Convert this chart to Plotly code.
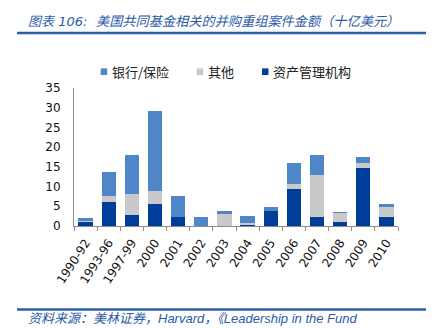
import plotly.graph_objects as go

categories = ["1990-92", "1993-96", "1997-99", "2000", "2001", "2002", "2003",
              "2004", "2005", "2006", "2007", "2008", "2009", "2010"]
asset_mgmt = [1.1, 6.2, 2.8, 5.7, 2.3, 0.0, 0.1, 0.3, 3.9, 9.5, 2.3, 1.1, 14.7, 2.3]
other      = [0.2, 1.4, 5.3, 3.3, 0.0, 0.0, 3.0, 0.5, 0.0, 1.2, 10.7, 2.2, 1.2, 2.6]
bank_ins   = [0.7, 6.1, 10.0, 20.1, 5.2, 2.4, 0.6, 1.8, 0.9, 5.4, 5.1, 0.1, 1.7, 0.6]
y_ticks = [0, 5, 10, 15, 20, 25, 30, 35]

names = ["资产管理机构", "其他", "银行/保险"]
colors = ["#003F99", "#C9C9C9", "#4F86C8"]

W, H = 435, 328
L, R, T, B = 74, 37, 88, 102
pw, ph = W - L - R, H - T - B


def px(x):
    return (x - L) / pw


def py(y):
    return (H - B - y) / ph


fig = go.Figure()
for name, vals, c in zip(names, [asset_mgmt, other, bank_ins], colors):
    fig.add_trace(go.Bar(x=categories, y=vals, name=name, marker_color=c,
                         marker_line_width=0, showlegend=False))

CJK = "DejaVu Sans, Noto Sans CJK SC"
FOOT = "Liberation Sans, Noto Sans CJK SC"
blue = "#2B5BA8"

shapes = [
    dict(type="line", xref="paper", yref="paper", x0=px(17), x1=px(426),
         y0=py(33), y1=py(33), line=dict(color="#2E5DA8", width=2.5)),
    dict(type="line", xref="paper", yref="paper", x0=px(17), x1=px(426),
         y0=py(309.5), y1=py(309.5), line=dict(color="#2E5DA8", width=2.5)),
]
annotations = [
    dict(text="<i>图表 106:</i>",
         xref="paper", yref="paper", x=px(26), y=py(21), xanchor="left", yanchor="middle",
         showarrow=False, font=dict(family=CJK, size=13, color=blue)),
    dict(text="<i>美国共同基金相关的并购重组案件金额（十亿美元）</i>",
         xref="paper", yref="paper", x=px(94), y=py(21), xanchor="left", yanchor="middle",
         showarrow=False, font=dict(family=CJK, size=13.2, color=blue)),
    dict(text="<i>资料来源：美林证券，Harvard，《Leadership in the Fund</i>",
         xref="paper", yref="paper", x=px(26), y=py(318), xanchor="left", yanchor="middle",
         showarrow=False, font=dict(family=FOOT, size=13, color=blue)),
]

# manual legend (order: 银行/保险, 其他, 资产管理机构)
legend_items = [("银行/保险", "#4F86C8", 100.7), ("其他", "#C9C9C9", 196.7),
                ("资产管理机构", "#003F99", 262)]
ly = 71.7
for text, c, x0 in legend_items:
    shapes.append(dict(type="rect", xref="paper", yref="paper",
                       x0=px(x0), x1=px(x0 + 6.5), y0=py(ly + 3.3), y1=py(ly - 3.3),
                       fillcolor=c, line=dict(width=0)))
    annotations.append(dict(text=text, xref="paper", yref="paper", x=px(x0 + 9),
                            y=py(ly), xanchor="left", yanchor="middle", showarrow=False,
                            font=dict(family="Noto Sans CJK SC", size=13, color="#222222")))

fig.update_layout(
    width=W, height=H,
    margin=dict(l=L, r=R, t=T, b=B, pad=0),
    barmode="stack", bargap=0.38,
    plot_bgcolor="white", paper_bgcolor="white",
    showlegend=False,
    shapes=shapes, annotations=annotations,
    xaxis=dict(type="category", showline=True, linecolor="#8C8C8C", linewidth=1,
               ticks="outside", tickson="boundaries", ticklen=4, tickcolor="#8C8C8C",
               tickangle=-57, tickfont=dict(family="DejaVu Sans", size=12, color="#111111"),
               ticklabelstandoff=4, showgrid=False, zeroline=False),
    yaxis=dict(range=[0, 35], tickvals=y_ticks, showline=True, linecolor="#8C8C8C",
               linewidth=1, ticks="", showgrid=False, zeroline=False,
               tickfont=dict(family="DejaVu Sans", size=12, color="#111111"),
               ticklabelstandoff=10),
)

fig.write_html("out.html")
